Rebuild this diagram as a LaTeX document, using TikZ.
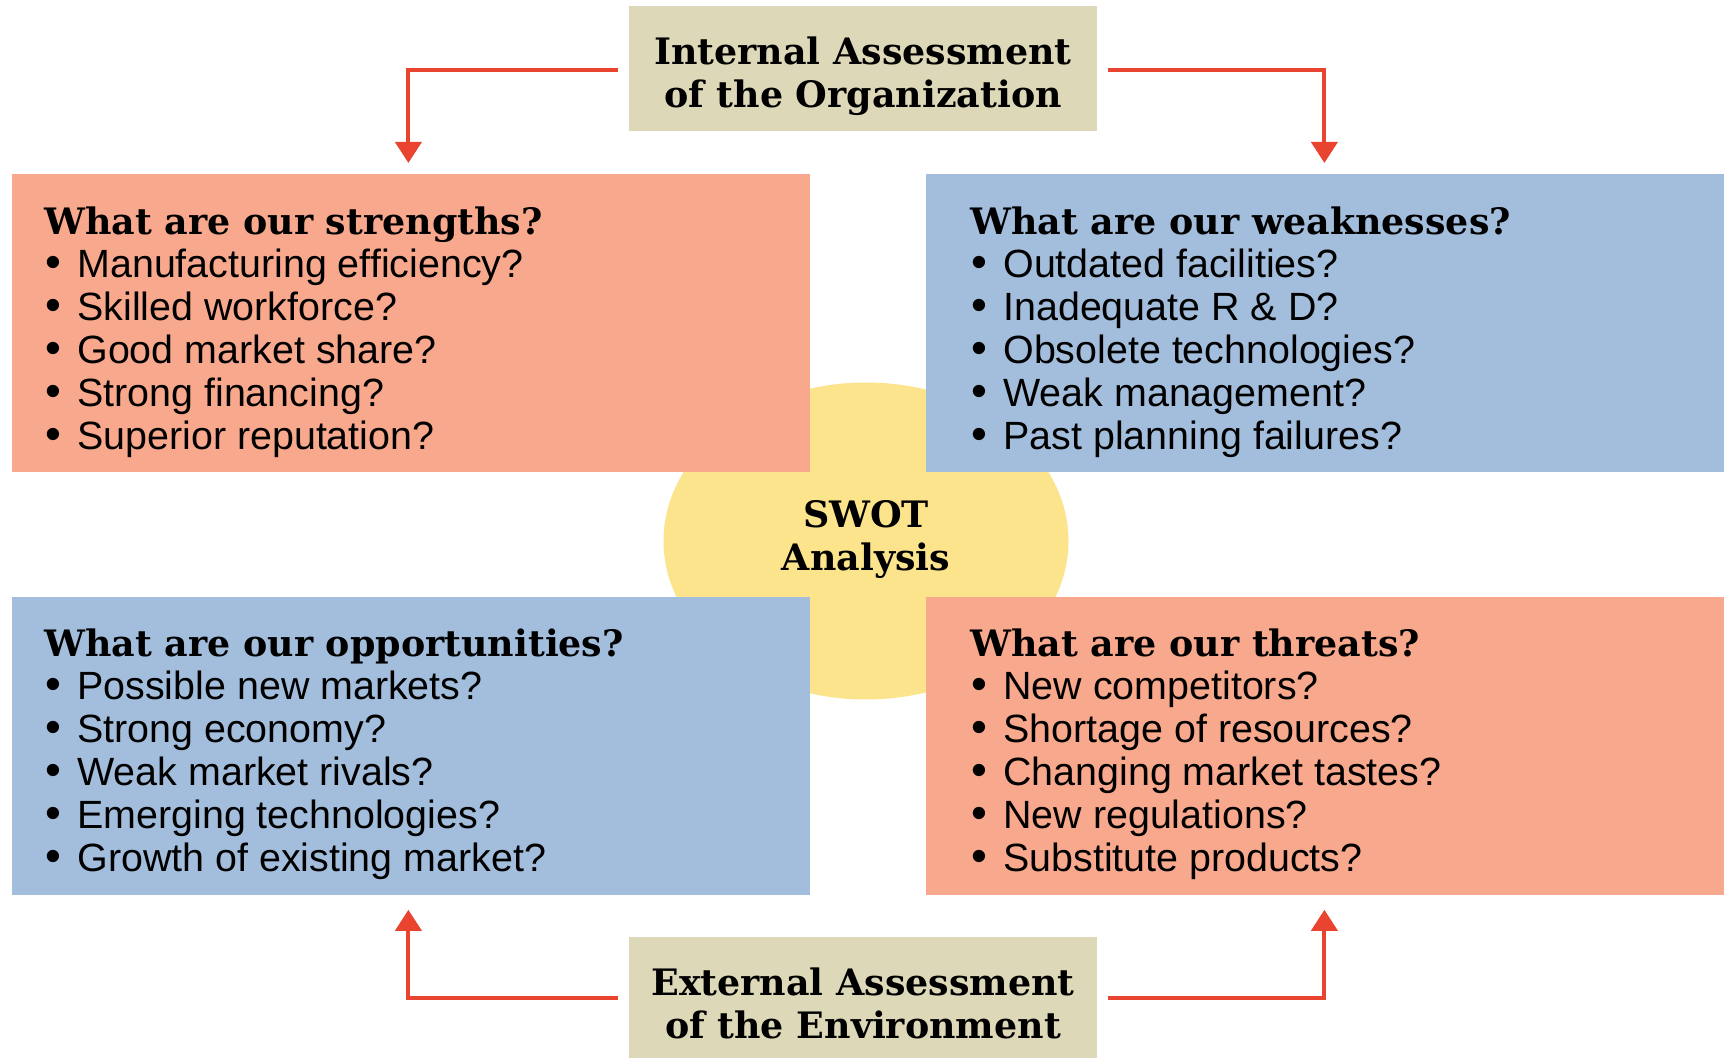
\documentclass[tikz,border=0pt]{standalone}
\usepackage{fontspec}
\setmainfont{Liberation Sans}
\newfontfamily\headfont{DejaVu Serif}
\usetikzlibrary{arrows.meta,shapes.geometric,calc}
\definecolor{salmon}{RGB}{248,168,140}
\definecolor{paleblue}{RGB}{163,190,220}
\definecolor{beige}{RGB}{221,216,184}
\definecolor{swotyellow}{RGB}{252,228,140}
\definecolor{arrowred}{RGB}{232,68,48}
\newcommand\swotitem[1]{\makebox[16.5pt][l]{\hspace{0.5pt}\scalebox{1.15}{•}}#1}
\newcommand\swothead[1]{{\headfont\bfseries\fontsize{18.2pt}{21.5pt}\selectfont #1}}
\begin{document}
\begin{tikzpicture}[x=0.5pt,y=-0.5pt,
  quad/.style={rectangle, inner sep=0pt, minimum width=399pt, minimum height=149pt, anchor=north west},
  qtext/.style={inner sep=0pt, anchor=base west, font=\fontsize{19.7pt}{21.5pt}\selectfont},
  assess/.style={rectangle, fill=beige, inner sep=0pt, minimum width=234pt, align=center,
    font=\headfont\bfseries\fontsize{18.2pt}{21.5pt}\selectfont},
  arr/.style={draw=arrowred, line width=2pt, -{Triangle[width=13pt,length=10.5pt]}}]
\useasboundingbox (0,0) rectangle (1725,1058);
% central ellipse
\node[ellipse, fill=swotyellow, minimum width=202.5pt, minimum height=158.5pt, inner sep=0pt] (E) at (866,541) {};
% quadrants
\node[quad, fill=salmon] (S) at (12,174) {};
\node[quad, fill=paleblue] (W) at (926,174) {};
\node[quad, fill=paleblue] (O) at (12,597) {};
\node[quad, fill=salmon] (T) at (926,597) {};
% SWOT label
\node[align=center, inner sep=0pt, font=\headfont\bfseries\fontsize{18.2pt}{21.5pt}\selectfont] (L) at ($(E.center)+(0,-1)$) {SWOT\\Analysis};
% assessment boxes
\node[assess, minimum height=62.5pt] (top) at (863,68.5) {};
\node[assess, minimum height=60.5pt] (bot) at (863,997.5) {};
\node[assess, fill=none] (topt) at ($(top.center)+(0,8)$) {Internal Assessment\\of the Organization};
\node[assess, fill=none] (bott) at ($(bot.center)+(0,6)$) {External Assessment\\of the Environment};
% quadrant texts
\node[qtext] (St) at ($(S.north west)+(32,61)$) {\begin{tabular}[t]{@{}l@{}}
\swothead{What are our strengths?}\\
\swotitem{Manufacturing efficiency?}\\
\swotitem{Skilled workforce?}\\
\swotitem{Good market share?}\\
\swotitem{Strong financing?}\\
\swotitem{Superior reputation?}
\end{tabular}};
\node[qtext] (Wt) at ($(W.north west)+(44,61)$) {\begin{tabular}[t]{@{}l@{}}
\swothead{What are our weaknesses?}\\
\swotitem{Outdated facilities?}\\
\swotitem{Inadequate R \& D?}\\
\swotitem{Obsolete technologies?}\\
\swotitem{Weak management?}\\
\swotitem{Past planning failures?}
\end{tabular}};
\node[qtext] (Ot) at ($(O.north west)+(32,60)$) {\begin{tabular}[t]{@{}l@{}}
\swothead{What are our opportunities?}\\
\swotitem{Possible new markets?}\\
\swotitem{Strong economy?}\\
\swotitem{Weak market rivals?}\\
\swotitem{Emerging technologies?}\\
\swotitem{Growth of existing market?}
\end{tabular}};
\node[qtext] (Tt) at ($(T.north west)+(44,60)$) {\begin{tabular}[t]{@{}l@{}}
\swothead{What are our threats?}\\
\swotitem{New competitors?}\\
\swotitem{Shortage of resources?}\\
\swotitem{Changing market tastes?}\\
\swotitem{New regulations?}\\
\swotitem{Substitute products?}
\end{tabular}};
% arrows
\draw[arr] ([xshift=-5.5pt,yshift=-1pt]top.west) -| ([xshift=-1.5pt,yshift=5.5pt]S.north);
\draw[arr] ([xshift=5.5pt,yshift=-1pt]top.east) -| ([xshift=-0.5pt,yshift=5.5pt]W.north);
\draw[arr] ([xshift=-5.5pt]bot.west) -| ([xshift=-1.5pt,yshift=-7pt]O.south);
\draw[arr] ([xshift=5.5pt]bot.east) -| ([xshift=-0.5pt,yshift=-7pt]T.south);
\end{tikzpicture}
\end{document}
